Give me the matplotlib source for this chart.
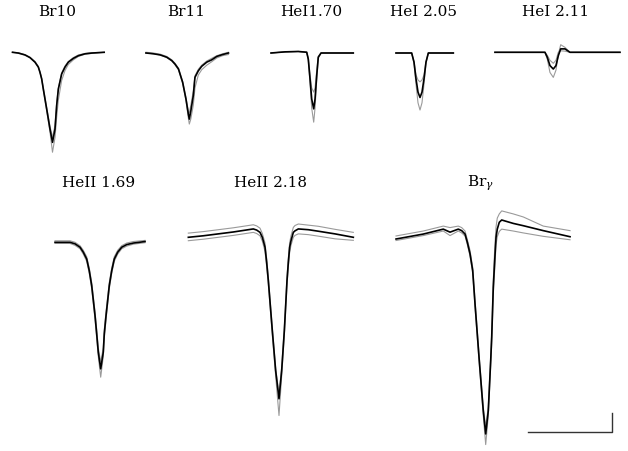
import matplotlib.pyplot as plt

plt.rcParams["mathtext.fontset"] = "dejavuserif"

# velocity (km/s) and normalised flux: mean profile (black) and the two grey envelopes
br10_v = [-480, -410, -330, -270, -210, -170, -150, -130, -110, -70, -30, 0, 30, 50, 70, 110, 150, 190, 250, 310, 390, 470, 620]
br10_mean = [1.0, 0.998, 0.993, 0.986, 0.974, 0.961, 0.947, 0.930, 0.903, 0.851, 0.798, 0.763, 0.798, 0.860, 0.903, 0.943, 0.961, 0.974, 0.984, 0.991, 0.996, 0.998, 1.0]
br10_g1 = [1.0, 0.998, 0.993, 0.986, 0.974, 0.961, 0.947, 0.929, 0.900, 0.847, 0.790, 0.737, 0.776, 0.829, 0.874, 0.926, 0.952, 0.968, 0.980, 0.989, 0.995, 0.997, 1.0]
br10_g2 = [1.0, 0.999, 0.994, 0.987, 0.976, 0.963, 0.949, 0.932, 0.906, 0.855, 0.805, 0.776, 0.808, 0.866, 0.907, 0.946, 0.964, 0.976, 0.986, 0.993, 0.997, 0.999, 1.0]

br11_v = [-520, -432, -350, -271, -210, -172, -130, -80, -40, -12, 0, 18, 48, 68, 108, 149, 210, 269, 330, 400, 470]
br11_mean = [1.0, 0.998, 0.995, 0.989, 0.980, 0.971, 0.958, 0.923, 0.879, 0.840, 0.826, 0.847, 0.888, 0.936, 0.953, 0.965, 0.976, 0.982, 0.991, 0.996, 1.0]
br11_g1 = [1.0, 0.998, 0.995, 0.988, 0.979, 0.969, 0.956, 0.920, 0.875, 0.830, 0.813, 0.826, 0.863, 0.908, 0.942, 0.956, 0.968, 0.977, 0.987, 0.993, 0.996]
br11_g2 = [1.002, 1.0, 0.997, 0.991, 0.982, 0.973, 0.960, 0.925, 0.882, 0.848, 0.842, 0.862, 0.900, 0.940, 0.957, 0.968, 0.979, 0.986, 0.993, 0.998, 1.002]

hei170_v = [-512, -344, -185, -84, -65, -44, -24, 0, 16, 36, 55, 88, 475]
hei170_mean = [1.0, 1.003, 1.004, 1.002, 0.984, 0.932, 0.879, 0.853, 0.879, 0.940, 0.989, 1.0, 1.0]
hei170_g1 = [1.0, 1.003, 1.004, 1.002, 0.982, 0.921, 0.855, 0.818, 0.855, 0.929, 0.987, 1.0, 1.0]
hei170_g2 = [1.0, 1.003, 1.004, 1.002, 0.987, 0.942, 0.908, 0.897, 0.908, 0.953, 0.991, 1.0, 1.0]

hei205_v = [-288, -100, -72, -48, -24, 0, 24, 48, 72, 100, 400]
hei205_mean = [1.0, 1.0, 0.976, 0.932, 0.897, 0.883, 0.897, 0.932, 0.976, 1.0, 1.0]
hei205_g1 = [1.0, 1.0, 0.974, 0.918, 0.869, 0.850, 0.869, 0.918, 0.974, 1.0, 1.0]
hei205_g2 = [1.0, 1.0, 0.978, 0.942, 0.929, 0.924, 0.929, 0.942, 0.978, 1.0, 1.0]

hei211_v = [-700, -100, -72, -40, 0, 32, 60, 89, 140, 200, 800]
hei211_mean = [1.0, 1.0, 0.987, 0.965, 0.956, 0.965, 0.991, 1.009, 1.009, 1.0, 1.0]
hei211_g1 = [1.0, 1.0, 0.982, 0.947, 0.934, 0.953, 0.995, 1.020, 1.013, 1.0, 1.0]
hei211_g2 = [1.0, 1.0, 0.992, 0.979, 0.971, 0.979, 1.0, 1.004, 1.003, 1.0, 1.0]

heii169_v = [-548, -449, -368, -308, -248, -209, -168, -137, -108, -68, -48, -29, 0, 31, 43, 64, 103, 132, 163, 204, 252, 312, 391, 532]
heii169_mean = [1.0, 1.0, 1.0, 0.996, 0.987, 0.974, 0.956, 0.925, 0.886, 0.807, 0.759, 0.711, 0.667, 0.711, 0.759, 0.807, 0.886, 0.925, 0.956, 0.974, 0.987, 0.994, 0.998, 1.002]
heii169_g1 = [0.997, 0.997, 0.997, 0.992, 0.983, 0.969, 0.950, 0.918, 0.878, 0.797, 0.748, 0.700, 0.645, 0.700, 0.748, 0.797, 0.878, 0.918, 0.950, 0.969, 0.983, 0.990, 0.995, 0.999]
heii169_g2 = [1.004, 1.004, 1.004, 1.000, 0.991, 0.979, 0.962, 0.932, 0.894, 0.817, 0.770, 0.722, 0.685, 0.722, 0.770, 0.817, 0.894, 0.932, 0.962, 0.979, 0.991, 0.998, 1.002, 1.005]

heii218_v = [-1088, -908, -728, -548, -368, -308, -268, -228, -200, -168, -148, -128, -80, -40, 0, 32, 64, 96, 112, 128, 144, 172, 192, 232, 352, 472, 672, 892]
heii218_mean = [1.0, 1.004, 1.009, 1.014, 1.020, 1.022, 1.019, 1.013, 1.0, 0.974, 0.934, 0.886, 0.754, 0.649, 0.575, 0.649, 0.754, 0.886, 0.934, 0.974, 0.991, 1.013, 1.017, 1.022, 1.020, 1.016, 1.009, 1.0]
heii218_g1 = [0.991, 0.995, 1.000, 1.005, 1.011, 1.013, 1.010, 1.004, 0.990, 0.963, 0.923, 0.876, 0.742, 0.635, 0.531, 0.635, 0.742, 0.874, 0.922, 0.961, 0.979, 1.000, 1.005, 1.009, 1.007, 1.003, 0.996, 0.992]
heii218_g2 = [1.011, 1.015, 1.020, 1.025, 1.031, 1.033, 1.030, 1.024, 1.010, 0.985, 0.944, 0.895, 0.760, 0.655, 0.587, 0.657, 0.762, 0.895, 0.945, 0.986, 1.004, 1.026, 1.031, 1.035, 1.032, 1.029, 1.021, 1.013]

brg_v = [-1076, -749, -509, -428, -329, -288, -248, -220, -188, -156, -128, -77, -29, 0, 31, 60, 72, 91, 108, 124, 139, 163, 192, 331, 451, 691, 1012]
brg_mean = [1.0, 1.013, 1.026, 1.018, 1.026, 1.022, 1.013, 0.991, 0.961, 0.917, 0.829, 0.680, 0.548, 0.487, 0.548, 0.680, 0.741, 0.873, 0.943, 1.004, 1.026, 1.044, 1.050, 1.041, 1.035, 1.022, 1.006]
brg_g1 = [0.996, 1.009, 1.021, 1.009, 1.021, 1.016, 1.008, 0.985, 0.955, 0.910, 0.820, 0.670, 0.535, 0.459, 0.535, 0.668, 0.725, 0.855, 0.920, 0.985, 1.006, 1.020, 1.026, 1.021, 1.016, 1.007, 0.998]
brg_g2 = [1.008, 1.021, 1.034, 1.030, 1.034, 1.030, 1.021, 0.998, 0.970, 0.925, 0.838, 0.688, 0.556, 0.506, 0.558, 0.690, 0.752, 0.890, 0.975, 1.032, 1.055, 1.066, 1.074, 1.066, 1.058, 1.034, 1.022]

titles = ["Br10", "Br11", "HeI1.70", "HeI 2.05", "HeI 2.11", "HeII 1.69", "HeII 2.18", r"Br$_\gamma$"]

# scale bar size
bar_v = 1000
bar_f = 0.05

# layout (pixels): line centre / continuum position of each panel, title position
W, H = 628, 452
KMS_PX = 12.0
FLUX_PX = 0.05 / 19
centres = [(52.5, 53.3), (189.3, 54), (313.7, 54), (420, 54), (553.3, 53.3),
           (100.7, 243.3), (279, 238.3), (485.7, 240)]
title_pos = [(57, 12), (186, 12), (311, 12), (423, 12), (556, 12),
             (99, 183), (270, 183), (480, 183)]

panels = [
    (br10_v, br10_mean, br10_g1, br10_g2),
    (br11_v, br11_mean, br11_g1, br11_g2),
    (hei170_v, hei170_mean, hei170_g1, hei170_g2),
    (hei205_v, hei205_mean, hei205_g1, hei205_g2),
    (hei211_v, hei211_mean, hei211_g1, hei211_g2),
    (heii169_v, heii169_mean, heii169_g1, heii169_g2),
    (heii218_v, heii218_mean, heii218_g1, heii218_g2),
    (brg_v, brg_mean, brg_g1, brg_g2),
]

fig = plt.figure(figsize=(W / 100, H / 100), dpi=100)

xlim = (-1300, 1700)
ylim = (0.4, 1.15)

for i, (v, mean, g1, g2) in enumerate(panels):
    cx, cy = centres[i]
    left = cx + xlim[0] / KMS_PX
    width = (xlim[1] - xlim[0]) / KMS_PX
    top = cy - (ylim[1] - 1) / FLUX_PX
    height = (ylim[1] - ylim[0]) / FLUX_PX
    ax = fig.add_axes([left / W, 1 - (top + height) / H, width / W, height / H])
    ax.set_xlim(xlim)
    ax.set_ylim(ylim)
    ax.axis("off")
    ax.plot(v, g1, color="#9a9a9a", lw=0.8, clip_on=False)
    ax.plot(v, g2, color="#9a9a9a", lw=0.8, clip_on=False)
    ax.plot(v, mean, color="black", lw=1.2, clip_on=False)
    if i == len(panels) - 1:
        x0, y0 = 511, 0.491
        ax.plot([x0, x0 + bar_v, x0 + bar_v], [y0, y0, y0 + bar_f],
                color="#333333", lw=1.0, clip_on=False)

for t, (tx, ty) in zip(titles, title_pos):
    fig.text(tx / W, 1 - ty / H, t, ha="center", va="center",
             family="DejaVu Serif", fontsize=11)

fig.savefig("out.png", dpi=100)
